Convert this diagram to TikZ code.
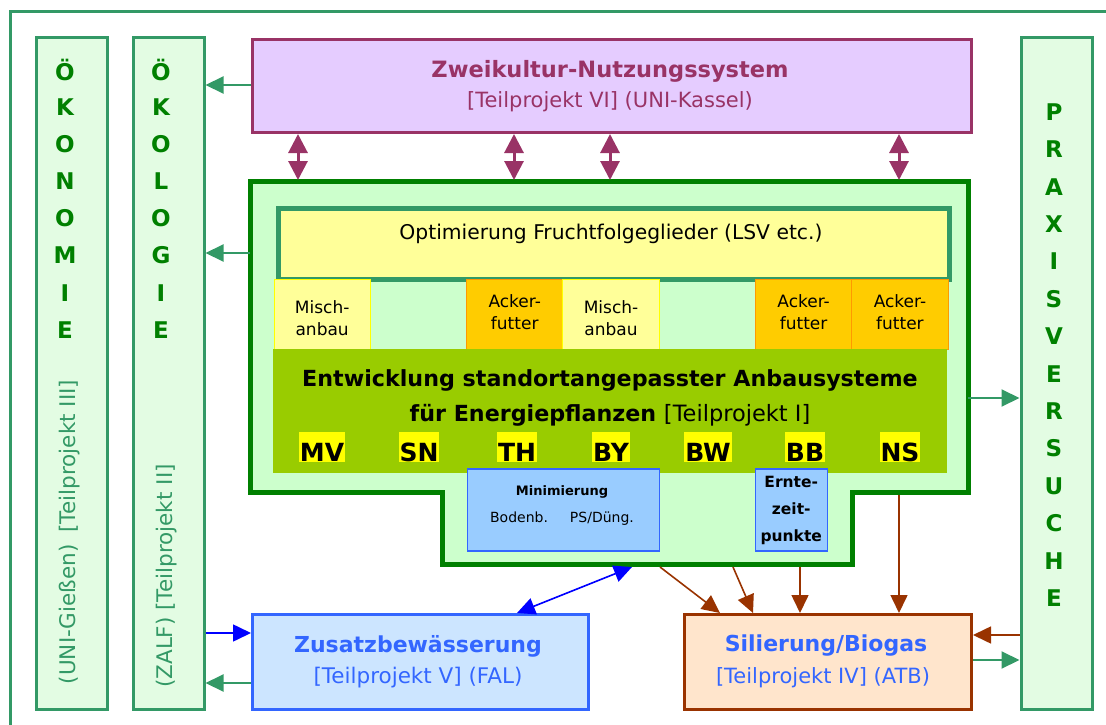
\documentclass[tikz,border=0pt]{standalone}
\usepackage{fontspec}
\setmainfont{DejaVu Sans}
\usetikzlibrary{arrows.meta,calc}
\definecolor{frame}{HTML}{339966}
\definecolor{dgreen}{HTML}{008000}
\definecolor{colfill}{HTML}{E3FCE3}
\definecolor{plum}{HTML}{993366}
\definecolor{lav}{HTML}{E5CCFF}
\definecolor{mainfill}{HTML}{CCFFCC}
\definecolor{optfill}{HTML}{FFFF99}
\definecolor{orangef}{HTML}{FFCC00}
\definecolor{oranged}{HTML}{FF9900}
\definecolor{bandc}{HTML}{99CC00}
\definecolor{bluef}{HTML}{99CCFF}
\definecolor{blued}{HTML}{3366FF}
\definecolor{lblue}{HTML}{CCE5FF}
\definecolor{brownc}{HTML}{993300}
\definecolor{peach}{HTML}{FFE5CC}
\definecolor{hilite}{HTML}{FFFF00}
\newcommand{\fs}[1]{\fontsize{#1}{#1}\selectfont}
\begin{document}
\begin{tikzpicture}[x=1pt,y=-1pt,
  colbox/.style={draw=frame,fill=colfill,line width=3,anchor=north west,inner sep=0,minimum width=71,minimum height=671},
  colletter/.style={font=\fs{23}\bfseries,text=dgreen,inner sep=0},
  coltext/.style={rotate=90,font=\fs{21.5},text=frame,inner sep=0},
  cellbox/.style={anchor=north west,minimum width=96.3,minimum height=70,inner sep=0,line width=1},
  celltext/.style={font=\fontsize{17}{21.5}\selectfont,align=center,inner sep=0},
  mischcell/.style={cellbox,draw=hilite,fill=optfill},
  ackercell/.style={cellbox,draw=oranged,fill=orangef},
  emptycell/.style={cellbox},
  stateN/.style={fill=hilite,font=\fs{25}\bfseries,inner xsep=1,inner ysep=0,text height=29,text depth=1,anchor=base},
  garrow/.style={draw=frame,line width=2,-{Triangle[length=18,width=17]}},
  barrow/.style={draw=blue,line width=1.6,-{Triangle[length=18,width=17]}},
  brarrow/.style={draw=brownc,line width=1.6,-{Triangle[length=18,width=17]}},
  parrow/.style={draw=plum,line width=3,{Triangle[length=19,width=19]}-{Triangle[length=19,width=19]}},
  bbarrow/.style={draw=blue,line width=1.6,{Triangle[length=18,width=17]}-{Triangle[length=18,width=17]}}
]
\useasboundingbox (0,0) rectangle (1106,725);
% outer frame
\draw[frame,line width=3] (10,730) -- (10,12) -- (1110,12);

% columns
\node[colbox] (oek) at (34.5,36.5) {};
\node[colbox] (okg) at (131.5,36.5) {};
\node[colbox] (prx) at (1019.5,36.5) {};
\foreach \l [count=\i] in {Ö,K,O,N,O,M,I,E}
  \node[colletter] (oekL\i) at (65,69.5+37.2*\i-37.2) {\l};
\foreach \l [count=\i] in {Ö,K,O,L,O,G,I,E}
  \node[colletter] (okgL\i) at (161,69.5+37.2*\i-37.2) {\l};
\foreach \l [count=\i] in {P,R,A,X,I,S,V,E,R,S,U,C,H,E}
  \node[colletter] (prxL\i) at (1054,112+37.4*\i-37.4) {\l};
\node[coltext] (oekT) at (70,532) {(UNI-Gießen)\hspace{12pt}[Teilprojekt III]};
\node[coltext] (okgT) at (167,576) {(ZALF) [Teilprojekt II]};

% Zweikultur
\node[draw=plum,fill=lav,line width=3,anchor=north west,minimum width=719,minimum height=93,inner sep=0] (zk) at (250.5,38) {};
\node[font=\fs{22.5}\bfseries,text=plum] (zkT) at (610,71) {Zweikultur-Nutzungssystem};
\node[font=\fs{21},text=plum] (zkS) at (610,102) {[Teilprojekt VI] (UNI-Kassel)};

% main polygon
\draw[dgreen,fill=mainfill,line width=5,line join=miter]
  (250,181) coordinate (mNW) -- (968,181) coordinate (mNE) -- (968,492) coordinate (mRB)
  -- (852,492) -- (852,564) coordinate (mBR) -- (442,564) coordinate (mBL) -- (442,492) -- (250,492) coordinate (mLB) -- cycle;

% optimierung
\node[draw=frame,fill=optfill,line width=5,anchor=north west,minimum width=671,minimum height=71,inner sep=0] (opt) at (275.5,205.5) {};
\node[font=\fs{20.3}] (optT) at (611,234) {Optimierung Fruchtfolgeglieder (LSV etc.)};

% cells
\node[mischcell] (c1) at (273.5,278.5) {};
\node[emptycell] (c2) at (369.8,278.5) {};
\node[ackercell] (c3) at (466.1,278.5) {};
\node[mischcell] (c4) at (562.4,278.5) {};
\node[emptycell] (c5) at (658.7,278.5) {};
\node[ackercell] (c6) at (755,278.5) {};
\node[ackercell] (c7) at (851.3,278.5) {};
\foreach \c in {c1,c4}
  \node[celltext] (\c T) at ([yshift=-4]\c.center) {Misch-\\anbau};
\foreach \c in {c3,c6,c7}
  \node[celltext] (\c T) at ([yshift=2]\c.center) {Acker-\\futter};

% band
\node[fill=bandc,anchor=north west,minimum width=674,minimum height=124,inner sep=0] (band) at (273,348.5) {};
\node[font=\fs{22.2}\bfseries] (bandT1) at (610,380) {Entwicklung standortangepasster Anbausysteme};
\node[font=\fs{22.2}\bfseries] (bandT2) at (610,415) {für Energiepflanzen {\mdseries\fs{22.5}[Teilprojekt I]}};
\foreach \s/\x [count=\i] in {MV/322,SN/419,TH/517,BY/611,BW/708,BB/805,NS/900}
  \node[stateN] (st\i) at (\x,461) {\s};

% Minimierung & Erntezeitpunkte
\node[draw=blued,fill=bluef,line width=1.5,anchor=north west,minimum width=192,minimum height=82,inner sep=0] (mini) at (466.5,468) {};
\node[font=\fs{13}\bfseries] (miniT) at (562,492) {Minimierung};
\node[font=\fs{14}] (miniS) at (562,519) {Bodenb.\hspace{22pt}PS/Düng.};
\node[draw=blued,fill=bluef,line width=1.5,anchor=north west,minimum width=72,minimum height=82,inner sep=0] (ernte) at (754.5,468) {};
\node[font=\fontsize{15.5}{27}\selectfont\bfseries,align=center,inner sep=0] (ernteT) at ([yshift=-1]ernte.center) {Ernte-\\zeit-\\punkte};

% bottom boxes
\node[draw=blued,fill=lblue,line width=3,anchor=north west,minimum width=336,minimum height=95,inner sep=0] (zus) at (251,613) {};
\node[font=\fs{22}\bfseries,text=blued] (zusT) at (418,646) {Zusatzbewässerung};
\node[font=\fs{21.5},text=blued] (zusS) at (418,678) {[Teilprojekt V] (FAL)};
\node[draw=brownc,fill=peach,line width=3,anchor=north west,minimum width=287,minimum height=95,inner sep=0] (sil) at (683,613) {};
\node[font=\fs{22}\bfseries,text=blued] (silT) at (826,646) {Silierung/Biogas};
\node[font=\fs{21},text=blued] (silS) at (823,678) {[Teilprojekt IV] (ATB)};

% connectors
\draw[garrow] (zk.west |- 0,85) -- (okg.east |- 0,85);
\draw[garrow] (mNW |- 0,253) -- (okg.east |- 0,253);
\draw[barrow] (okg.east |- 0,633) -- (zus.west |- 0,633);
\draw[garrow] (zus.west |- 0,683) -- (okg.east |- 0,683);
\draw[garrow] (mNE |- 0,398) -- (prx.west |- 0,398);
\draw[brarrow] (prx.west |- 0,635) -- (sil.east |- 0,635);
\draw[garrow] (sil.east |- 0,660) -- (prx.west |- 0,660);
\foreach \x in {298,514,610,899}
  \draw[parrow] (\x,0 |- zk.south) -- (\x,180);
\draw[bbarrow] (632,567) -- (517,0 |- zus.north);
\draw[brarrow] (660,567) -- (720,0 |- sil.north);
\draw[brarrow] (733,567) -- (753,0 |- sil.north);
\draw[brarrow] (800,567) -- (800,0 |- sil.north);
\draw[brarrow] (899,495) -- (899,0 |- sil.north);
\end{tikzpicture}
\end{document}
